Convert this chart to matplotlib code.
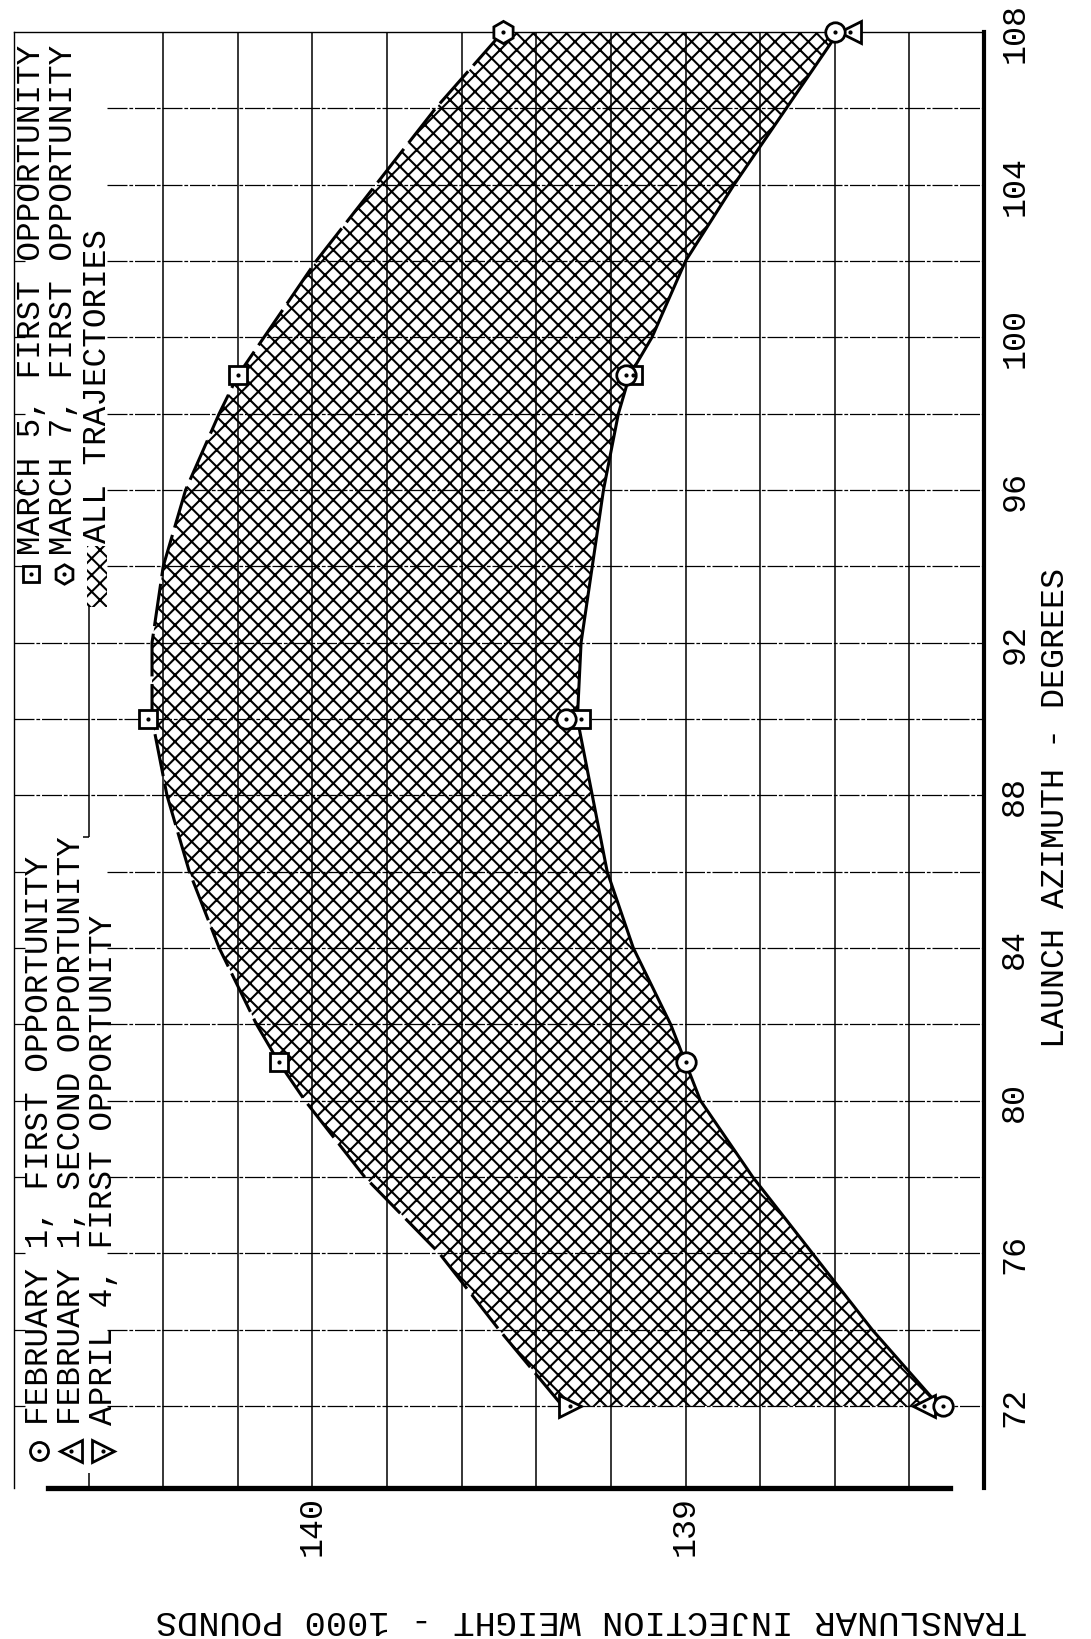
import matplotlib
matplotlib.use("Agg")
import matplotlib.pyplot as plt
from matplotlib.patches import Rectangle
import numpy as np

plt.rcParams['font.family'] = ['Liberation Mono', 'DejaVu Sans Mono']
plt.rcParams['hatch.linewidth'] = 1.5

# boundary curves of the "all trajectories" band (azimuth deg, weight 1000 lb)
band_az = [72, 74, 76, 78, 80, 81, 82, 84, 86, 88, 90, 92, 94, 96, 98, 99, 100, 102, 104, 106, 108]
band_upper = [139.33, 139.50, 139.66, 139.86, 140.02, 140.09, 140.15, 140.25, 140.33, 140.39, 140.43,
              140.43, 140.40, 140.34, 140.25, 140.20, 140.13, 139.99, 139.83, 139.67, 139.49]
band_lower = [138.32, 138.50, 138.66, 138.82, 138.96, 139.00, 139.04, 139.14, 139.21, 139.25, 139.29,
              139.28, 139.25, 139.22, 139.18, 139.15, 139.09, 139.00, 138.87, 138.73, 138.59]

# data points per launch date
feb1_first_az = [72, 81, 90, 99, 108]
feb1_first_w = [138.31, 139.00, 139.32, 139.16, 138.60]
feb1_second_az = [72, 108]
feb1_second_w = [138.36, 138.56]
apr4_first_az = [72]
apr4_first_w = [139.31]
mar5_first_az = [81, 90, 99, 90, 99]
mar5_first_w = [140.09, 140.44, 140.20, 139.28, 139.14]
mar7_first_az = [108]
mar7_first_w = [139.49]

az_ticks = [72, 76, 80, 84, 88, 92, 96, 100, 104, 108]
w_ticks = [140, 139]

W, H = 1091, 1640
fig = plt.figure(figsize=(W / 100, H / 100), dpi=100)

def px(x, y):
    return x / W, 1 - y / H

x0, x1, ytop, ybot = 14, 984, 33, 1489
ax = fig.add_axes([x0 / W, 1 - ybot / H, (x1 - x0) / W, (ybot - ytop) / H])
ax.set_xlim(140.8, 138.2)
ax.set_ylim(69.85, 108)

# grid
gls = (0, (16, 1.5, 3, 1.5))
for a in range(72, 108, 2):
    if a in (88, 90, 92):
        ax.hlines(a, 140.8, 138.2, colors='black', lw=0.9, linestyles=gls, zorder=1)
    else:
        ax.hlines(a, 140.8, 140.77, colors='black', lw=0.9, zorder=1)
        ax.hlines(a, 140.55, 138.2, colors='black', lw=0.9, linestyles=gls, zorder=1)
for w in np.arange(138.4, 140.41, 0.2):
    ax.vlines(w, 69.85, 108, colors='black', lw=1.1, zorder=1)
ax.vlines(140.6, 69.85, 70.25, colors='black', lw=1.1, zorder=1)
ax.vlines(140.6, 86.9, 92.95, colors='black', lw=1.1, zorder=1)
ax.hlines(86.9, 140.6, 140.615, colors='black', lw=1.1, zorder=1)

# hatched band
ax.fill_betweenx(band_az, band_upper, band_lower, facecolor='none', edgecolor='black',
                 hatch='xx', linewidth=0, zorder=2)
ax.plot(band_upper, band_az, color='black', lw=2.2, ls=(0, (14, 2.5)), zorder=3)
ax.plot(band_lower, band_az, color='black', lw=2.2, zorder=3)

def pts(w, a, m, ms):
    ax.plot(w, a, ls='none', marker=m, ms=ms, mfc='white', mec='black', mew=2.0, zorder=4, clip_on=False)
    ax.plot(w, a, ls='none', marker='.', ms=4, color='black', zorder=5, clip_on=False)

pts(mar5_first_w, mar5_first_az, 's', 13)
pts(feb1_second_w, feb1_second_az, '<', 16)
pts(apr4_first_w, apr4_first_az, '>', 16)
pts(feb1_first_w, feb1_first_az, 'o', 14)
pts(mar7_first_w, mar7_first_az, 'h', 16)

# axes frame
for s in ('left', 'top'):
    ax.spines[s].set_linewidth(1.0)
ax.spines['right'].set_linewidth(3.0)
ax.spines['bottom'].set_linewidth(3.8)
ax.spines['bottom'].set_bounds(140.71, 138.29)

ax.yaxis.tick_right()
ax.set_yticks(az_ticks)
ax.set_yticklabels([str(t) for t in az_ticks], rotation=90, va='center', fontsize=24)
ax.set_xticks(w_ticks)
ax.set_xticklabels([str(t) for t in w_ticks], rotation=90, fontsize=24)
ax.tick_params(axis='y', length=0, pad=11)
ax.tick_params(axis='x', length=0, pad=5)

fig.text(*px(1056, 808), 'LAUNCH AZIMUTH - DEGREES', rotation=90, ha='center', va='center', fontsize=24)
fig.text(*px(591, 1621), 'TRANSLUNAR INJECTION WEIGHT - 1000 POUNDS', rotation=180,
         ha='center', va='center', fontsize=25.5)

# legends
def legend_entry(x, ysym, ytxt, marker, text, ms):
    fx, fy = px(x, ysym)
    fig.add_artist(plt.Line2D([fx], [fy], marker=marker, ms=ms, mfc='white', mec='black', mew=2.0))
    fig.add_artist(plt.Line2D([fx], [fy], marker='.', ms=4, color='black'))
    fig.text(*px(x, ytxt), text, rotation=90, rotation_mode='anchor', ha='left', va='center', fontsize=23.5)

legend_entry(39, 1452, 1425, 'o', 'FEBRUARY 1, FIRST OPPORTUNITY', 13)
legend_entry(71, 1452, 1425, '<', 'FEBRUARY 1, SECOND OPPORTUNITY', 16)
legend_entry(103, 1452, 1425, '>', 'APRIL 4, FIRST OPPORTUNITY', 16)
legend_entry(31, 575, 555, 's', 'MARCH 5, FIRST OPPORTUNITY', 12)
legend_entry(64, 575, 555, 'h', 'MARCH 7, FIRST OPPORTUNITY', 14)

rx, ry = px(87, 608)
fig.add_artist(Rectangle((rx, ry), 20 / W, 61 / H, transform=fig.transFigure,
                         facecolor='none', edgecolor='black', hatch='xx', linewidth=0))
fig.text(*px(97, 543), 'ALL TRAJECTORIES', rotation=90, rotation_mode='anchor', ha='left', va='center',
         fontsize=23.5)

fig.savefig('out.png', dpi=100)
